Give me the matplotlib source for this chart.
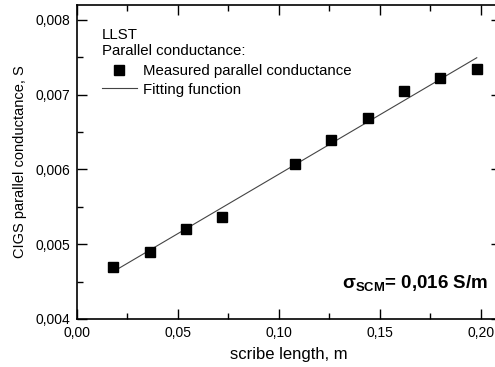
import numpy as np
import matplotlib
matplotlib.use("Agg")
from matplotlib import pyplot as plt
from matplotlib.ticker import MultipleLocator, FuncFormatter

plt.rcParams['font.family'] = ['Liberation Sans', 'DejaVu Sans']
plt.rcParams['mathtext.fontset'] = 'custom'
plt.rcParams['mathtext.rm'] = 'Liberation Sans'
plt.rcParams['mathtext.it'] = 'Liberation Sans'
plt.rcParams['mathtext.bf'] = 'Liberation Sans:bold'

# ------------- Data ---------------

scribe_length = [0.018, 0.036, 0.054, 0.072, 0.108, 0.126, 0.144, 0.162, 0.180, 0.198]
conductance = [0.00469, 0.00489, 0.00520, 0.00537, 0.00607, 0.00639, 0.00669,
               0.00705, 0.00723, 0.00735]


def comma(v, pos, digits):
	return f'{v:.{digits}f}'.replace('.', ',')


# ------------- Plot ---------------

fig = plt.figure(figsize=(4.95, 3.67), dpi=100)
ax = fig.add_axes([77 / 495, 48 / 367, 424 / 495, 314 / 367])

slope, intercept = np.polyfit(scribe_length, conductance, 1)
x_fit = np.array([scribe_length[0], scribe_length[-1]])

ax.plot(scribe_length, conductance, 's', color='black', markersize=6.5,
	label='Measured parallel conductance', zorder=3)
ax.plot(x_fit, slope * x_fit + intercept, '-', color='#444444', linewidth=0.8,
	label='Fitting function', zorder=2)

ax.set_xlim(0, 0.21)
ax.set_ylim(0.004, 0.0082)
ax.xaxis.set_major_locator(MultipleLocator(0.05))
ax.xaxis.set_minor_locator(MultipleLocator(0.025))
ax.yaxis.set_major_locator(MultipleLocator(0.001))
ax.yaxis.set_minor_locator(MultipleLocator(0.0005))
ax.xaxis.set_major_formatter(FuncFormatter(lambda v, p: comma(v, p, 2)))
ax.yaxis.set_major_formatter(FuncFormatter(lambda v, p: comma(v, p, 3)))

ax.tick_params(which='both', direction='in', top=True, right=True, labelsize=10, width=1)
ax.tick_params(which='major', length=7, pad=5)
ax.tick_params(which='minor', length=4)
for s in ax.spines.values():
	s.set_linewidth(1.2)

ax.set_xlabel('scribe length, m', fontsize=12, labelpad=5)
ax.set_ylabel('CIGS parallel conductance, S', fontsize=10.5)
ax.yaxis.set_label_coords(-0.118, 0.5)

leg = ax.legend(title='LLST\nParallel conductance:', loc='upper left',
	bbox_to_anchor=(0.045, 0.945), frameon=False, fontsize=10.8,
	title_fontsize=10.8, alignment='left', handlelength=2.3,
	handletextpad=0.4, labelspacing=0.3, borderaxespad=0)
leg._legend_box.sep = 4

ax.text(0.2035, 0.00441, r'$\mathregular{\sigma}_{\mathbf{SCM}}$= 0,016 S/m',
	fontsize=13.5, fontweight='bold', ha='right', va='baseline')

fig.savefig('out.png', dpi=100)
